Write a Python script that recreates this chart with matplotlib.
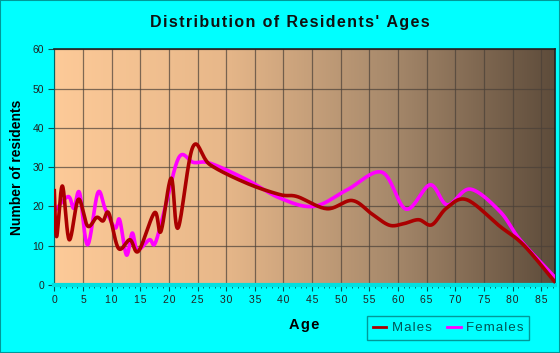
import numpy as np
import matplotlib.pyplot as plt
from matplotlib.colors import LinearSegmentedColormap

# values
male_age = [0, 0.4, 1.4, 2.6, 4.2, 5.8, 7.4, 8.5, 9.5, 11.2, 13.2, 14.7, 17.5, 18.6,
            20.4, 21.6, 24.2, 27.2, 33.6, 39.4, 42.4, 47.6, 52.0, 55.5, 58.5, 61.0, 63.6,
            65.9, 68.5, 72.0, 77.8, 81.9, 87.3]
male_val = [24, 12.3, 25.2, 11.5, 21.8, 15.0, 17.2, 16.3, 18.3, 9.3, 11.5, 8.6, 18.4, 13.6,
            27.2, 14.5, 35.2, 30.6, 25.9, 23.0, 22.5, 19.4, 21.5, 18.0, 15.2, 15.6, 16.6,
            15.3, 19.6, 21.7, 14.9, 10.2, 0.9]

female_age = [0, 2.4, 3.4, 4.4, 5.8, 7.6, 8.9, 10.6, 11.4, 12.6, 13.6, 14.5, 16.6, 17.6,
              19.4, 21.8, 24.3, 27.2, 33.6, 39.4, 45.3, 51.1, 57.2, 61.4, 65.6, 68.6,
              72.6, 77.8, 81.3, 87.3]
female_val = [18.7, 22.5, 19.5, 23.5, 10.2, 23.5, 19.3, 14.5, 16.6, 7.6, 13.2, 8.9, 11.5, 10.6,
              20.0, 32.6, 31.2, 31.0, 26.8, 22.1, 20.0, 24.2, 28.7, 19.3, 25.5, 20.4,
              24.4, 18.7, 11.5, 2.1]

x_ticks = list(range(0, 90, 5))
y_ticks = list(range(0, 70, 10))


def smooth(xs, ys, n=20):
    # catmull-rom through the read points, like the original's curved lines
    x = np.asarray(xs, float); y = np.asarray(ys, float)
    px = np.r_[x[0], x, x[-1]]; py = np.r_[y[0], y, y[-1]]
    ox, oy = [], []
    t = np.linspace(0, 1, n, endpoint=False)
    for i in range(1, len(px) - 2):
        for p, o in ((px, ox), (py, oy)):
            p0, p1, p2, p3 = p[i - 1], p[i], p[i + 1], p[i + 2]
            o.extend(0.5 * (2 * p1 + (-p0 + p2) * t + (2 * p0 - 5 * p1 + 4 * p2 - p3) * t ** 2
                            + (-p0 + 3 * p1 - 3 * p2 + p3) * t ** 3))
    ox.append(x[-1]); oy.append(y[-1])
    return np.array(ox), np.array(oy)


def spaced(s):
    # the original draws its labels with a bit of letter spacing
    return '\u200a'.join(s)


plt.rcParams['font.family'] = ['Liberation Sans', 'DejaVu Sans']

fig = plt.figure(figsize=(5.6, 3.53), dpi=100, facecolor='#00ffff')
fig.patches.append(plt.Rectangle((0, 0), 1, 1, transform=fig.transFigure, fill=False,
                                 edgecolor='#009999', linewidth=1.5))
ax = fig.add_axes([0.097, 0.193, 0.894, 0.667])
ax.set_facecolor('#00ffff')

# horizontal gradient background
cmap = LinearSegmentedColormap.from_list('bg', ['#fdca98', '#e8b88a', '#a88a6c', '#5e4c3b'])
ax.imshow(np.linspace(0, 1, 256).reshape(1, -1), cmap=cmap, aspect='auto',
          extent=[0, 87.4, 0, 60], zorder=0)

ax.set_xlim(0, 87.4)
ax.set_ylim(0, 60)
ax.set_xticks(x_ticks)
ax.set_xticklabels([spaced(str(v)) for v in x_ticks])
ax.set_xticks(range(0, 88), minor=True)
ax.set_yticks(y_ticks)
ax.grid(True, color='#4a4038', alpha=0.7, linewidth=0.9, zorder=1)

mx, my = smooth(male_age, male_val)
fx, fy = smooth(female_age, female_val)
ax.plot(fx, fy, color='#ff00ff', linewidth=2.6, label='Females', zorder=3)
ax.plot(mx, my, color='#aa0000', linewidth=2.6, label='Males', zorder=4)

for s in ['top', 'right']:
    ax.spines[s].set_color('#222222')
    ax.spines[s].set_linewidth(1.2)
ax.spines['left'].set_color('#006666')
ax.spines['bottom'].set_color('#00e0e0')
ax.spines['bottom'].set_linewidth(3)
ax.tick_params(axis='both', which='major', labelsize=7.5, colors='#005555',
               labelcolor='#222222', length=4, width=0.8)
ax.tick_params(axis='x', which='minor', length=2.5, width=0.6, colors='#005555')

ax.set_xlabel(spaced('Age'), fontsize=10.5, fontweight='bold', labelpad=9)
ax.set_ylabel('Number of residents', fontsize=10, fontweight='bold', labelpad=6)
fig.text(0.518, 0.935, spaced("Distribution of Residents' Ages"), ha='center', va='center',
         fontsize=11.5, fontweight='bold', color='#111111')

h, l = ax.get_legend_handles_labels()
leg = ax.legend(h[::-1], [spaced('Males'), spaced('Females')], loc='upper left',
                bbox_to_anchor=(0.625, -0.132), borderaxespad=0, ncol=2, fontsize=9.5,
                frameon=True, fancybox=False, edgecolor='#008080', facecolor='#00ffff',
                handlelength=1.0, handletextpad=0.4, columnspacing=1.2,
                borderpad=0.45)
for line in leg.get_lines():
    line.set_linewidth(2)
for t in leg.get_texts():
    t.set_color('#005555')

fig.savefig('out.png', dpi=100, facecolor=fig.get_facecolor())
